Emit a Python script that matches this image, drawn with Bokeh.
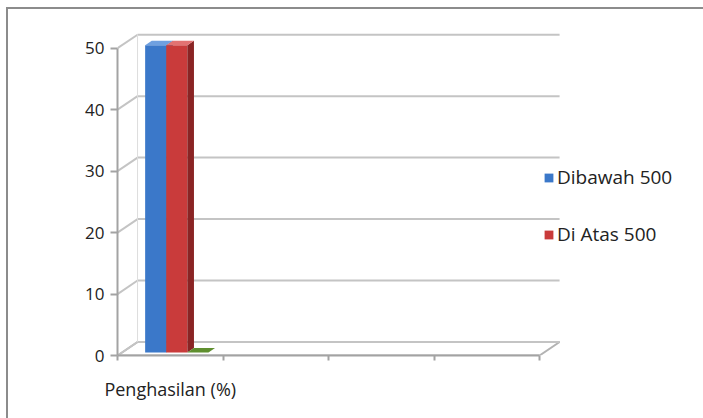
import numpy as np
from bokeh.plotting import figure
from bokeh.models import Range1d, FixedTicker, Legend, LegendItem
from bokeh.embed import file_html
from bokeh.resources import INLINE

# ---------------- data ----------------
categories = ["Penghasilan (%)", "", "", ""]
series_names = ["Dibawah 500", "Di Atas 500", ""]
series_values = [50, 50, 0]
y_ticks = [0, 10, 20, 30, 40, 50]

# ---------------- style ----------------
DX, DY = 0.19, 2.2          # oblique depth offset of the back wall (data units)
BAR_W = 0.2
BAR_START = 0.262
F0, F1 = 0.22, 0.55         # bar depth (fraction of wall depth)
front_colors = ["#3b78c9", "#c93b3b", "#5f8f2f"]
top_colors = ["#6fa0e0", "#e27272", "#7aab45"]
side_colors = ["#2a5898", "#8a2424", "#46701f"]
FONT = "Open Sans"
GRID = "#c4c4c4"
AXIS = "#a3a3a3"

n_cat = len(categories)
ymax = max(y_ticks)

p = figure(width=697, height=411,
           x_range=Range1d(0, 5.573), y_range=Range1d(0, 53.7),
           output_backend="svg", toolbar_location=None,
           min_border_left=109, min_border_right=0,
           min_border_top=16, min_border_bottom=65)
p.styles = {"margin-left": "6px", "margin-top": "7px",
            "border-left": "2px solid #8c8c8c", "border-top": "2px solid #8c8c8c"}
p.xgrid.visible = False
p.ygrid.visible = False
p.outline_line_color = None
p.background_fill_color = "white"
p.border_fill_color = "white"

# y axis
p.yaxis.ticker = FixedTicker(ticks=y_ticks)
p.yaxis.bounds = (0, ymax)
p.yaxis.axis_line_color = AXIS
p.yaxis.axis_line_width = 2
p.yaxis.major_tick_line_color = AXIS
p.yaxis.major_tick_line_width = 2
p.yaxis.major_tick_out = 7
p.yaxis.major_tick_in = 0
p.yaxis.minor_tick_out = 0
p.yaxis.minor_tick_in = 0
p.yaxis.major_label_text_font = FONT
p.yaxis.major_label_text_font_size = "17px"
p.yaxis.major_label_text_color = "#222222"
p.yaxis.major_label_standoff = 6

# x axis (category axis)
p.xaxis.ticker = FixedTicker(ticks=[i + 0.5 for i in range(n_cat)],
                             minor_ticks=list(range(n_cat + 1)))
p.xaxis.major_label_overrides = {i + 0.5: categories[i] for i in range(n_cat)}
p.xaxis.bounds = (0, n_cat)
p.xaxis.axis_line_color = AXIS
p.xaxis.axis_line_width = 2
p.xaxis.major_tick_out = 0
p.xaxis.major_tick_in = 0
p.xaxis.minor_tick_line_color = AXIS
p.xaxis.minor_tick_line_width = 2
p.xaxis.minor_tick_out = 5
p.xaxis.minor_tick_in = 0
p.xaxis.major_label_text_font = FONT
p.xaxis.major_label_text_font_size = "18px"
p.xaxis.major_label_text_color = "#222222"
p.xaxis.major_label_standoff = 16

# floor
p.patch([0, n_cat, n_cat + DX, DX], [0, 0, DY, DY],
        fill_color="white", line_color="#b3b3b3", line_width=2)

# back wall gridlines + left-wall connectors
yt = np.array(y_ticks, dtype=float)
p.segment(x0=[DX] * len(yt), y0=yt + DY, x1=[n_cat + DX] * len(yt), y1=yt + DY,
          line_color=GRID, line_width=2)
p.segment(x0=[0] * len(yt), y0=yt, x1=[DX] * len(yt), y1=yt + DY,
          line_color=GRID, line_width=2)
p.segment(x0=[DX], y0=[DY], x1=[DX], y1=[ymax + DY], line_color="#dddddd", line_width=1)

# bars
ox0, oy0 = F0 * DX, F0 * DY
ddx, ddy = (F1 - F0) * DX, (F1 - F0) * DY
front_renderers = []
for i, val in enumerate(series_values):
    x0 = BAR_START + i * BAR_W
    x1 = x0 + BAR_W
    if val > 0:
        r = p.quad(left=[x0], right=[x1], bottom=[oy0], top=[val + oy0],
                   fill_color=front_colors[i], line_color=None)
        p.patch([x1, x1 + ddx, x1 + ddx, x1],
                [oy0, oy0 + ddy, val + oy0 + ddy, val + oy0],
                fill_color=side_colors[i], line_color=None)
    else:
        r = p.quad(left=[x0], right=[x1], bottom=[oy0], top=[oy0],
                   fill_color=front_colors[i], line_color=None)
    p.patch([x0, x1, x1 + ddx, x0 + ddx],
            [val + oy0, val + oy0, val + oy0 + ddy, val + oy0 + ddy],
            fill_color=top_colors[i] if val > 0 else front_colors[i], line_color=None)
    front_renderers.append(r)

items = [LegendItem(label=series_names[i], renderers=[front_renderers[i]])
         for i in range(len(series_names)) if series_names[i]]
legend = Legend(items=items, location=(426, 108), spacing=31,
                glyph_width=11, glyph_height=11, label_height=20,
                label_standoff=3, padding=0, margin=0,
                border_line_alpha=0, background_fill_alpha=0,
                label_text_font=FONT, label_text_font_size="19px",
                label_text_color="#222222")
p.add_layout(legend)

open("out.html", "w").write(file_html(p, INLINE))
